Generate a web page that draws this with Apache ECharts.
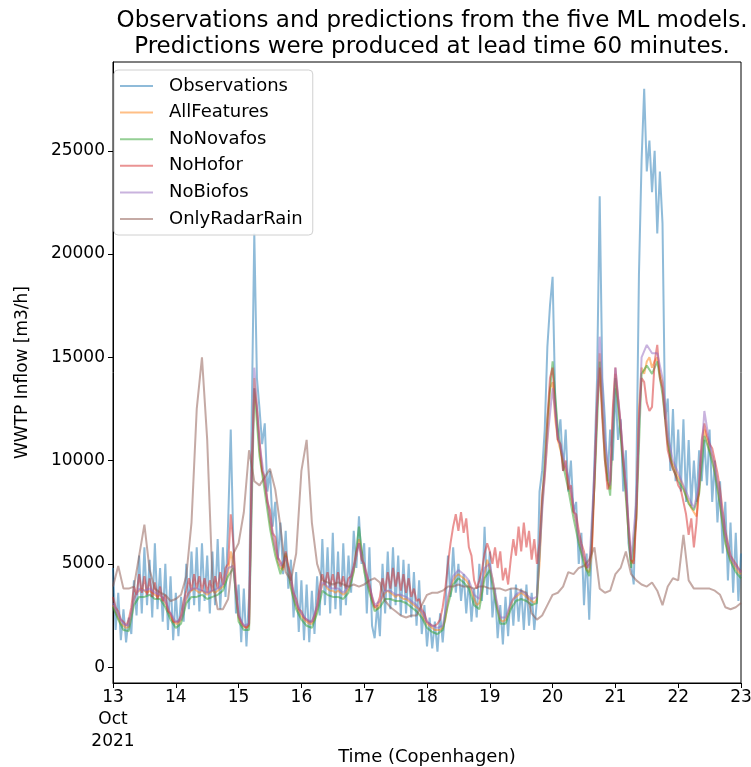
<!DOCTYPE html>
<html>
<head>
<meta charset="utf-8">
<script src="https://cdn.jsdelivr.net/npm/echarts@6/dist/echarts.min.js"></script>
<style>
  html, body { margin: 0; padding: 0; background: #fff; }
  #chart { width: 751px; height: 767px; }
</style>
</head>
<body>
<div id="chart"></div>
<script>
// hours after 2021-10-13 00:00, one value per hour (0..240)
var observations = [
    4800, 1800, 3600, 1300, 2800, 1200, 2400, 1600, 4200, 2500, 5400, 2600, 5800, 3000, 5200, 2400, 6000, 2800, 4800, 2200, 5000, 1800, 4400, 1300, 3600,
    1500, 3400, 2200, 5000, 2800, 5600, 3000, 5800, 2700, 6000, 3200, 5400, 2600, 5600, 3000, 6200, 2800, 5800, 3400, 7000, 11500, 6000, 2600, 4000,
    1200, 3800, 1000, 3400, 12000, 21000, 14000, 12500, 10800, 11800, 8500, 9500, 6800, 8000, 5200, 7000, 4500, 6600, 3800, 5200, 2400, 4600, 1700, 4200,
    1300, 4000, 1200, 3700, 1600, 4400, 2500, 6200, 3000, 5800, 2600, 6500, 2800, 5600, 2500, 6000, 3000, 5400, 3600, 6600, 4800, 7300, 5000, 6000,
    2600, 5800, 2000, 1400, 3000, 1500, 5000, 2600, 5600, 2800, 5800, 3000, 5400, 2500, 5200, 2600, 5000, 2400, 4600, 2000, 4200, 1600, 3000, 1000,
    2400, 900, 2200, 750, 2600, 1200, 2800, 5400, 3400, 5800, 3600, 5000, 3200, 4500, 2600, 4200, 2200, 3800, 2400, 5000, 3200, 6800, 3500, 5600,
    2400, 3800, 1400, 3000, 1100, 3400, 1500, 3800, 2000, 4000, 2200, 3800, 1800, 4000, 2000, 3600, 1800, 3200, 8500, 9500, 11500, 15500, 17500, 18900,
    13000, 11000, 12000, 9500, 11500, 8500, 10000, 7500, 8000, 5000, 6500, 3000, 5500, 2300, 6000, 10000, 14000, 22800, 14000, 12000, 9000, 11500, 10000, 13500,
    11000, 12000, 8500, 10500, 6000, 5000, 4000, 9000, 19000, 24500, 28000, 24000, 25500, 23000, 25000, 21000, 24000, 21500, 12000, 13000, 9500, 12500, 9000, 11500,
    8500, 12000, 8000, 11000, 7800, 10000, 8000, 10500, 9000, 11000, 8800, 11500, 8000, 10000, 7000, 9000, 5500, 8000, 4200, 7000, 3600, 6500, 3200, 5500
];

// one value per hour
var allFeatures = [
    3000, 2700, 2400, 2100, 2000, 1900, 1950, 2600, 3300, 3600, 3700, 3800, 3700, 3600, 3700, 3600, 3500, 3400, 3500, 3300, 3100, 2800, 2500, 2200, 2100,
    2100, 2300, 2800, 3300, 3600, 3700, 3800, 3700, 3600, 3700, 3600, 3500, 3600, 3700, 3600, 3700, 3800, 3900, 4200, 4600, 5600, 5000, 3500, 2400,
    2100, 1950, 1900, 2000, 9000, 14000, 12500, 10500, 9500, 8800, 8000, 7000, 6300, 5700, 5100, 4800, 4700, 5400, 4800, 4000, 3400, 3000, 2700, 2500,
    2300, 2200, 2100, 2100, 2300, 2800, 3500, 4000, 4000, 3800, 3700, 3700, 3600, 3700, 3600, 3500, 3600, 3800, 4200, 4700, 5400, 6200, 5600, 4800,
    4300, 3800, 3300, 2900, 2800, 3100, 3400, 3600, 3700, 3600, 3500, 3400, 3500, 3400, 3300, 3300, 3200, 3100, 3000, 2900, 2800, 2600, 2300, 2100,
    2000, 1900, 1800, 1800, 1800, 1900, 2300, 3200, 3800, 4200, 4400, 4500, 4400, 4300, 4200, 4000, 3700, 3300, 3000, 3100, 3800, 4500, 5200, 4800,
    4300, 3500, 2800, 2300, 2200, 2300, 2600, 3000, 3300, 3400, 3500, 3600, 3500, 3400, 3300, 3200, 3100, 3300, 5000, 7800, 9200, 11000, 13500, 13800,
    12000, 11000, 10500, 10000, 9600, 9000, 8300, 7600, 7000, 6200, 5700, 5200, 4700, 4600, 5500, 9000, 13000, 15200, 12500, 10500, 9000, 8600, 12000, 14200,
    13000, 11500, 10000, 8500, 6500, 5000, 5200, 7500, 12500, 14500, 14200, 14800, 15000, 14500, 14800, 15000, 14200, 13800, 12500, 11000, 10200, 9800, 9500, 9200,
    9000, 8700, 8300, 8000, 7700, 7500, 7300, 8500, 10500, 11500, 11000, 10500, 10200, 9500, 8800, 8000, 7000, 6200, 5600, 5200, 5000, 4800, 4600, 4500
];

// one value every two hours
var noNovafos = [
    2900, 2300, 1800, 1750, 3000, 3400, 3400, 3500, 3300, 3300, 2900, 2300, 1900,
    2100, 3100, 3400, 3400, 3500, 3300, 3400, 3500, 3700, 4400, 4800, 2200,
    1800, 1800, 13500, 10200, 8500, 6700, 5400, 4500, 5500, 3800, 2800, 2300,
    2000, 1900, 2600, 3700, 3500, 3400, 3400, 3300, 3600, 4600, 6800, 4600,
    3600, 2700, 2900, 3300, 3300, 3200, 3200, 3100, 2900, 2700, 2400, 1900,
    1700, 1600, 1800, 3000, 4000, 4300, 4100, 3800, 3000, 2800, 4300, 4700,
    3300, 2100, 2100, 2800, 3200, 3300, 3200, 3000, 3100, 8000, 12000, 14800,
    11500, 9800, 8600, 7200, 6000, 5000, 4400, 8800, 14800, 10000, 8300, 14000,
    11200, 8200, 4800, 7200, 14200, 14600, 14200, 14800, 13200, 10800, 9600, 9000,
    8600, 7900, 7600, 8400, 11200, 10400, 9400, 7800, 6000, 5100, 4600, 4300
];

// one value per hour
var noHofor = [
    3400, 2900, 2700, 2300, 2200, 2000, 2300, 2900, 3900, 3500, 4500, 3600, 4400, 3500, 4300, 3400, 4100, 3300, 3900, 3200, 3500, 2700, 2600, 2200, 2200,
    2200, 2500, 3200, 3700, 4300, 3700, 4500, 3800, 4400, 3700, 4300, 3600, 4200, 3700, 4400, 3800, 4600, 4000, 4800, 5000, 7400, 6000, 3800, 2500,
    2200, 2000, 1900, 2100, 9500, 13500, 12500, 11000, 9500, 9200, 8000, 7600, 6500, 6300, 5300, 5100, 4800, 5600, 4900, 4400, 3600, 3300, 2800, 2700,
    2400, 2300, 2200, 2200, 2500, 3000, 3900, 4500, 4000, 4600, 3900, 4500, 3800, 4600, 3900, 4400, 3800, 4300, 4400, 4900, 5600, 6000, 5200, 5000,
    4500, 4000, 3400, 2900, 3000, 3400, 4300, 3700, 4600, 3800, 4800, 3900, 4600, 3700, 4500, 3600, 4300, 3400, 3800, 3200, 3300, 2800, 2600, 2200,
    2100, 2000, 2000, 2100, 2300, 2900, 3800, 5000, 6000, 6800, 7400, 6600, 7500, 6500, 7200, 5800, 5400, 4200, 3800, 4200, 4700, 5500, 6000, 5600,
    5000, 5800, 4800, 5600, 4200, 4800, 4000, 5200, 6200, 5400, 6800, 5600, 7000, 5800, 6600, 5200, 6200, 5000, 6000, 8300, 9500, 12000, 14000, 14500,
    12500, 11000, 10800, 9500, 10000, 8600, 8800, 7500, 7400, 6600, 6000, 5600, 4800, 5000, 5800, 9000, 12500, 14500, 12000, 10000, 8600, 9000, 12500, 14500,
    13000, 11800, 10000, 8800, 7000, 5200, 5000, 7200, 12000, 14000, 13800, 12800, 12400, 12600, 14800, 15600, 14000, 13500, 12000, 10500, 10000, 9600, 9300, 8800,
    8600, 8000, 7400, 6400, 7200, 5800, 7000, 9000, 11000, 11800, 11200, 10800, 10600, 10000, 9400, 8600, 7600, 6600, 6000, 5400, 5200, 5000, 4800, 4600
];

// one value every two hours
var noBiofos = [
    3100, 2500, 2100, 2000, 3300, 3800, 3700, 3800, 3600, 3500, 3200, 2600, 2200,
    2300, 3400, 3800, 3800, 3700, 3600, 3700, 3800, 4000, 4800, 4900, 2500,
    2000, 2100, 14500, 10800, 9000, 7200, 5800, 4900, 5300, 4100, 3100, 2600,
    2300, 2200, 2900, 4100, 3900, 3800, 3800, 3600, 3900, 4800, 6000, 4900,
    3900, 3000, 3200, 3700, 3700, 3500, 3500, 3400, 3200, 3000, 2700, 2200,
    2000, 1900, 2000, 3400, 4400, 4700, 4500, 4200, 3500, 3300, 4800, 5000,
    3600, 2400, 2400, 3100, 3500, 3700, 3500, 3300, 3400, 7500, 11000, 13500,
    11200, 10200, 9200, 7800, 6300, 5300, 4800, 9500, 16000, 11000, 8800, 14500,
    11800, 8700, 5200, 8000, 15000, 15600, 15200, 15200, 14000, 11200, 10000, 9400,
    8800, 8200, 7700, 8800, 12400, 10800, 9700, 8200, 6400, 5300, 4900, 4600
];

// one value every two hours
var onlyRadarRain = [
    3900, 4900, 3800, 3800, 3900, 5400, 6900, 4700, 3800, 3600, 3500, 3200, 3300,
    3500, 4400, 7000, 12500, 15000, 11000, 4200, 2800, 2800, 3300, 5500, 6000,
    7500, 10500, 9000, 8800, 9200, 9600, 8600, 6800, 4600, 4200, 5500, 9500,
    11000, 7000, 5000, 4200, 4100, 4000, 4100, 4000, 3900, 4000, 3900, 4000,
    4200, 4300, 4100, 3200, 2900, 2700, 2500, 2400, 2500, 2500, 3000, 3500,
    3600, 3600, 3700, 3900, 3900, 4000, 3900, 3900, 3800, 3900, 3900, 3800,
    3800, 3800, 3700, 3800, 3800, 3700, 3600, 2600, 2300, 2500, 3000, 3500,
    3600, 3900, 4600, 4500, 4800, 4900, 5200, 5800, 3800, 3600, 3700, 4500,
    4800, 5600, 4500, 4200, 4000, 3900, 4100, 3700, 3000, 3900, 4300, 4200,
    6400, 4200, 3800, 3800, 3800, 3800, 3700, 3500, 2900, 2800, 2900, 3100
];

var seriesNames = ['Observations', 'AllFeatures', 'NoNovafos', 'NoHofor', 'NoBiofos', 'OnlyRadarRain'];
var seriesColors = [
    'rgba(31,119,180,0.5)', 'rgba(255,127,14,0.5)', 'rgba(44,160,44,0.5)',
    'rgba(214,39,40,0.5)', 'rgba(148,103,189,0.5)', 'rgba(140,86,75,0.5)'
];
var dayLabels = ['13\nOct\n2021', '14', '15', '16', '17', '18', '19', '20', '21', '22', '23'];

function toPoints(values, stepHours) {
    return values.map(function (v, i) { return [i * stepHours, v]; });
}

var seriesData = [
    toPoints(observations, 1),
    toPoints(allFeatures, 1),
    toPoints(noNovafos, 2),
    toPoints(noHofor, 1),
    toPoints(noBiofos, 2),
    toPoints(onlyRadarRain, 2)
];

var font = 'DejaVu Sans';
var chart = echarts.init(document.getElementById('chart'), null, { renderer: 'canvas' });

var option = {
    animation: false,
    backgroundColor: '#fff',
    title: {
        text: 'Observations and predictions from the five ML models.\nPredictions were produced at lead time 60 minutes.',
        left: 427,
        top: 3,
        textAlign: 'center',
        textStyle: { fontFamily: font, fontSize: 23, fontWeight: 'normal', color: '#000', lineHeight: 26 }
    },
    grid: {
        left: 113, right: 10, top: 62, bottom: 84,
        containLabel: false,
        outerBoundsMode: 'none',
        show: true, borderColor: '#000', borderWidth: 1, backgroundColor: 'transparent'
    },
    legend: {
        data: seriesNames,
        orient: 'vertical',
        left: 114,
        top: 70,
        padding: [7, 10, 7, 6],
        itemGap: 8.6,
        itemWidth: 33,
        itemHeight: 2,
        icon: 'rect',
        backgroundColor: 'rgba(255,255,255,0.8)',
        borderColor: '#d0d0d0',
        borderWidth: 1,
        borderRadius: 4,
        textStyle: { fontFamily: font, fontSize: 18, color: '#000', lineHeight: 18, padding: [0, 0, 0, 11] }
    },
    xAxis: {
        type: 'value',
        min: 0,
        max: 240,
        interval: 24,
        name: 'Time (Copenhagen)',
        nameLocation: 'middle',
        nameGap: 74,
        nameMoveOverlap: false,
        nameTextStyle: { fontFamily: font, fontSize: 18, color: '#000', verticalAlign: 'middle' },
        axisLine: { onZero: false, lineStyle: { color: '#000' } },
        axisTick: { length: 5, lineStyle: { color: '#000' } },
        axisLabel: {
            fontFamily: font, fontSize: 17, color: '#000', margin: 4, lineHeight: 22,
            formatter: function (v) { return dayLabels[Math.round(v / 24)]; }
        },
        splitLine: { show: false }
    },
    yAxis: {
        type: 'value',
        min: -770,
        max: 29300,
        splitNumber: 6,
        name: 'WWTP Inflow [m3/h]',
        nameLocation: 'middle',
        nameGap: 82,
        nameRotate: 90,
        nameMoveOverlap: false,
        nameTextStyle: { fontFamily: font, fontSize: 17, color: '#000' },
        axisLine: { show: true, onZero: false, lineStyle: { color: '#000' } },
        axisTick: { show: true, length: 5, lineStyle: { color: '#000' } },
        axisLabel: {
            fontFamily: font, fontSize: 17, color: '#000', margin: 8,
            showMinLabel: false, showMaxLabel: false,
            formatter: function (v) { return v % 5000 === 0 ? String(v) : ''; }
        },
        splitLine: { show: false }
    },
    series: seriesNames.map(function (name, k) {
        return {
            name: name,
            type: 'line',
            data: seriesData[k],
            color: seriesColors[k],
            showSymbol: false,
            symbol: 'none',
            lineStyle: { width: 2, color: seriesColors[k] },
            emphasis: { disabled: true }
        };
    })
};

chart.setOption(option);
</script>
</body>
</html>
